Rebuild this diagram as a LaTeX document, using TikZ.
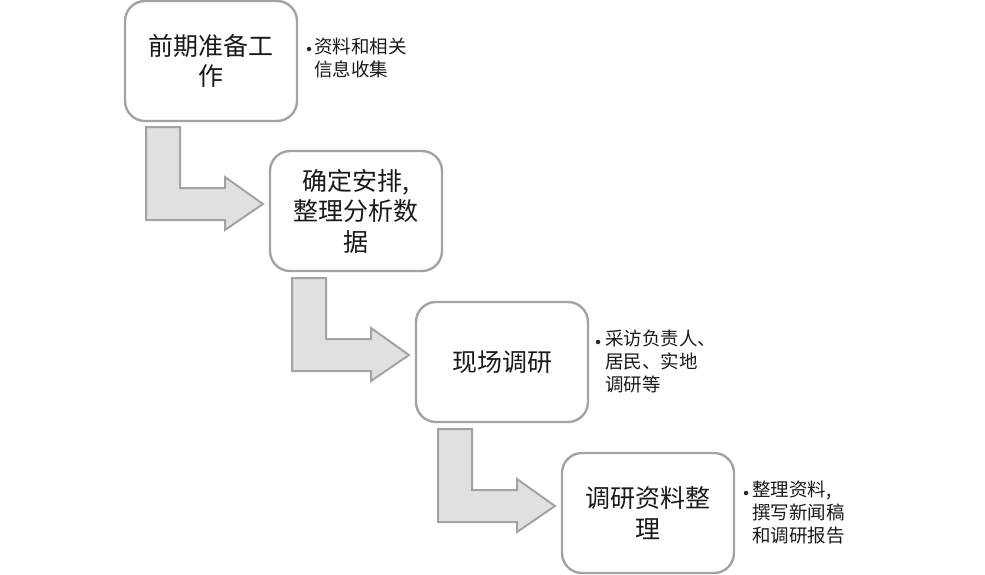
\documentclass[tikz,border=0pt]{standalone}
\usepackage{fontspec}
\newfontfamily\cjk{Noto Sans CJK SC}
\definecolor{edgegray}{HTML}{A3A3A3}
\definecolor{arrowfill}{HTML}{E0E0E0}
\tikzset{
  stepbox/.style={draw=edgegray, line width=2.4pt, fill=white, rounded corners=20pt,
    minimum width=172pt, minimum height=120pt, inner sep=0pt, align=center,
    text width=150pt, font=\cjk\fontsize{25}{30.5}\selectfont, text=black!90},
  sidetext/.style={anchor=north west, align=left, inner sep=0pt,
    font=\cjk\fontsize{18.5}{23}\selectfont, text=black!90},
  bulletdot/.style={circle, fill=black!85, inner sep=0pt, minimum size=4.5pt},
  bentarrow/.style={draw=edgegray, line width=2pt, fill=arrowfill, line join=miter}
}
\begin{document}
\begin{tikzpicture}[x=1pt,y=-1pt]
\useasboundingbox (0,0) rectangle (985,574);
% bent arrows
\foreach \i in {0,1,2}{
  \begin{scope}[shift={(146*\i,151*\i)}]
    \draw[bentarrow] (146,127) -- (180,127) -- (180,188) -- (225,188) -- (225,177)
      -- (263,204) -- (225,230) -- (225,220) -- (146,220) -- cycle;
  \end{scope}
}
\node[stepbox] (b1) at (211,61) {前期准备工\\作};
\node[stepbox] (b2) at (356,211) {确定安排,\\整理分析数\\据};
\node[stepbox] (b3) at (502,362) {现场调研};
\node[stepbox] (b4) at (648,513) {调研资料整\\理};
\node[bulletdot] (d1) at (309,49) {};
\node[sidetext] (s1) at (314,38) {资料和相关\\信息收集};
\node[bulletdot] (d3) at (598,342) {};
\node[sidetext] (s3) at (605,330) {采访负责人、\\居民、实地\\调研等};
\node[bulletdot] (d4) at (746,493) {};
\node[sidetext] (s4) at (752,481) {整理资料,\\撰写新闻稿\\和调研报告};
\end{tikzpicture}
\end{document}
